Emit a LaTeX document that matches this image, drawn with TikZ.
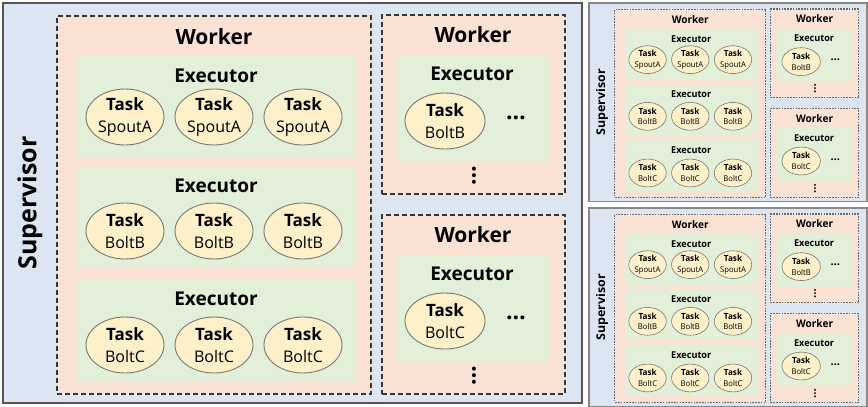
\documentclass[tikz,border=0pt]{standalone}
\usepackage{fontspec}
\setmainfont{Open Sans}
\usetikzlibrary{shapes.geometric}

\definecolor{supblue}{RGB}{220,230,242}
\definecolor{supline}{RGB}{85,85,85}
\definecolor{workpeach}{RGB}{250,226,212}
\definecolor{dashline}{RGB}{55,55,55}
\definecolor{execgreen}{RGB}{226,239,217}
\definecolor{taskyellow}{RGB}{254,240,200}
\definecolor{taskline}{RGB}{120,120,120}

\tikzset{
  supbox/.style={draw=supline, fill=supblue, line width=2pt, inner sep=0pt, outer sep=0pt},
  workerbox/.style={draw=dashline, fill=workpeach, line width=1.5pt, dash pattern=on 5pt off 3pt, inner sep=0pt, outer sep=0pt},
  execbox/.style={fill=execgreen, draw=none, inner sep=0pt, outer sep=0pt},
  task/.style={ellipse, draw=taskline, fill=taskyellow, line width=0.9pt,
    minimum width=78pt, minimum height=56pt, inner sep=0pt, align=center,
    font=\fontsize{16}{22}\selectfont},
  wlabel/.style={font=\fontsize{21}{25}\selectfont\bfseries, inner sep=0pt},
  elabel/.style={font=\fontsize{19}{23}\selectfont\bfseries, inner sep=0pt},
  slabel/.style={font=\fontsize{25}{30}\selectfont\bfseries, rotate=90, inner sep=0pt},
  more/.style={font=\fontsize{23}{26}\selectfont\bfseries, inner sep=0pt},
}

% rectangle node from its corners: style, name, x1, y1, x2, y2
\newcommand\areabox[6]{%
  \pgfmathsetmacro\abcx{(#3+#5)/2}%
  \pgfmathsetmacro\abcy{(#4+#6)/2}%
  \pgfmathsetmacro\abw{#5-#3}%
  \pgfmathsetmacro\abh{#6-#4}%
  \node[#1, minimum width=\abw pt, minimum height=\abh pt] (#2) at (\abcx,\abcy) {};%
}
% task ellipse: name, x, y, component
\newcommand\taskcell[4]{%
  \node[task] (#1) at (#2,#3) {{\fontsize{17}{22}\selectfont\bfseries Task}\\#4};%
}
% one supervisor with its three workers
\newcommand\supervisorpanel{%
  \areabox{supbox}{sup}{3}{3}{582}{403}
  \node[slabel] (suplabel) at (30,203) {Supervisor};
  % worker with three executors
  \areabox{workerbox}{w1}{57}{16}{371}{394}
  \node[wlabel] (w1label) at (214,37) {Worker};
  \areabox{execbox}{e1}{77}{55}{356}{157}
  \node[elabel] (e1label) at (216,76) {Executor};
  \taskcell{t11}{125}{117}{SpoutA}
  \taskcell{t12}{214}{117}{SpoutA}
  \taskcell{t13}{303}{117}{SpoutA}
  \areabox{execbox}{e2}{77}{167}{356}{268}
  \node[elabel] (e2label) at (216,186) {Executor};
  \taskcell{t21}{125}{231}{BoltB}
  \taskcell{t22}{214}{231}{BoltB}
  \taskcell{t23}{303}{231}{BoltB}
  \areabox{execbox}{e3}{77}{279}{356}{382}
  \node[elabel] (e3label) at (216,299) {Executor};
  \taskcell{t31}{125}{345}{BoltC}
  \taskcell{t32}{214}{345}{BoltC}
  \taskcell{t33}{303}{345}{BoltC}
  % worker running BoltB
  \areabox{workerbox}{w2}{382}{15}{565}{194}
  \node[wlabel] (w2label) at (473,35) {Worker};
  \areabox{execbox}{e4}{397}{55}{550}{162}
  \node[elabel] (e4label) at (472,74) {Executor};
  \node[task, minimum width=80pt] (t41) at (445,121) {{\fontsize{17}{22}\selectfont\bfseries Task}\\BoltB};
  \node[more] (h4) at (516,118) {…};
  \node[more, rotate=90] (v4) at (474,176) {…};
  % worker running BoltC
  \areabox{workerbox}{w3}{382}{215}{565}{394}
  \node[wlabel] (w3label) at (473,235) {Worker};
  \areabox{execbox}{e5}{397}{255}{550}{362}
  \node[elabel] (e5label) at (472,274) {Executor};
  \node[task, minimum width=80pt] (t51) at (445,321) {{\fontsize{17}{22}\selectfont\bfseries Task}\\BoltC};
  \node[more] (h5) at (516,318) {…};
  \node[more, rotate=90] (v5) at (474,376) {…};
}

\begin{document}
\begin{tikzpicture}[x=1pt, y=-1pt]
  \useasboundingbox (0,0) rectangle (868,407);
  \fill[white] (0,0) rectangle (868,407);

  \begin{scope}[name prefix=main-]
    \supervisorpanel
  \end{scope}

  \begin{scope}[shift={(587.56,1.51)}, xscale=0.48, yscale=0.497, transform shape,
      name prefix=upper-,
      supbox/.append style={draw=supline!70, line width=1.3pt},
      workerbox/.append style={draw=dashline!75, line width=1.1pt, dash pattern=on 1.6pt off 1.2pt},
      task/.append style={line width=0.6pt}]
    \supervisorpanel
  \end{scope}

  \begin{scope}[shift={(587.56,206.51)}, xscale=0.48, yscale=0.497, transform shape,
      name prefix=lower-,
      supbox/.append style={draw=supline!70, line width=1.3pt},
      workerbox/.append style={draw=dashline!75, line width=1.1pt, dash pattern=on 1.6pt off 1.2pt},
      task/.append style={line width=0.6pt}]
    \supervisorpanel
  \end{scope}
\end{tikzpicture}
\end{document}
